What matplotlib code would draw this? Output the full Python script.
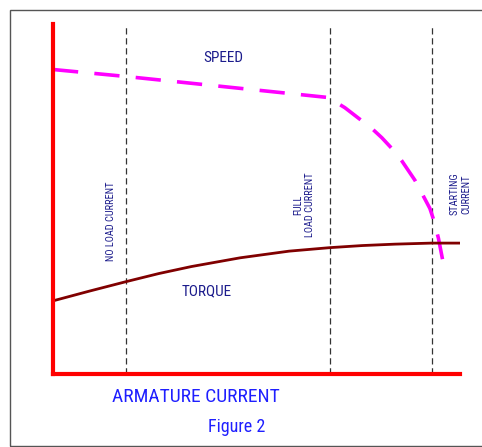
import matplotlib
matplotlib.use("Agg")
import matplotlib.pyplot as plt
from matplotlib import font_manager as fm
from matplotlib.patches import Rectangle

# look for a narrow font, the original uses something like Arial Narrow
names = sorted({f.name for f in fm.fontManager.ttflist})
preferred = ["Liberation Sans Narrow", "Arial Narrow", "Roboto Condensed", "Open Sans Condensed"]
narrow = [n for n in preferred if n in names]
narrow += [n for n in names if ("Narrow" in n or "Condensed" in n) and n not in narrow]

if narrow:
    plt.rcParams['font.family'] = [narrow[0], 'DejaVu Sans']
else:
    plt.rcParams['font.family'] = ['Liberation Sans', 'DejaVu Sans']

# armature current (0-100) positions of the markers
marker_x = [18, 68, 93]
marker_labels = ["NO LOAD CURRENT", "FULL\nLOAD CURRENT", "STARTING\nCURRENT"]

# speed curve (dashed magenta)
speed_x = [0, 18, 67.6, 71.7, 74.6, 78.3, 80.8, 84.0, 85.7, 88.9, 90.2, 92.6, 93.4, 94.7, 95.5, 96.3]
speed_y = [87, 85, 79.0, 76.1, 73.5, 70.2, 67.5, 63.5, 60.9, 55.4, 52.6, 47.3, 44.5, 38.8, 34.0, 29.2]

# torque curve (dark red)
torque_x = [0, 9, 18, 26, 34, 46, 58, 68, 76, 84, 93, 100]
torque_y = [20.9, 23.7, 26.4, 28.7, 30.7, 33.2, 35.1, 36.1, 36.7, 37.1, 37.4, 37.4]

fig = plt.figure(figsize=(4.82, 4.47), dpi=100)
ax = fig.add_axes([53 / 482, 73 / 447, 407 / 482, 350 / 447])

# border of the figure
fig.patches.append(Rectangle((10 / 482, 1 / 447), 1.0, 436 / 447, transform=fig.transFigure,
                             fill=False, edgecolor="#555555", lw=1))

for xm in marker_x:
    ax.axvline(xm, color="#333333", lw=0.9, ls=(0, (5, 3)))

ax.plot(speed_x, speed_y, color="#ff00ff", lw=2.6, ls=(0, (7, 4.5)))
ax.plot(torque_x, torque_y, color="#800000", lw=2)

ax.set_xlim(0, 100)
ax.set_ylim(0, 100)
for s in ["top", "right"]:
    ax.spines[s].set_visible(False)
for s in ["left", "bottom"]:
    ax.spines[s].set_color("#ff0000")
    ax.spines[s].set_linewidth(3)
ax.set_xticks([])
ax.set_yticks([])

big, mid, small = (14, 11, 7.5) if narrow else (11, 9, 6.5)

navy = "#1c1c8c"
ax.text(41.8, 90.3, "SPEED", color=navy, fontsize=mid, ha="center", va="center")
ax.text(37.8, 23.7, "TORQUE", color=navy, fontsize=mid, ha="center", va="center")
ax.text(14.3, 43.7, marker_labels[0], color=navy, fontsize=small, rotation=90,
        ha="center", va="center")
ax.text(61.7, 48.3, marker_labels[1], color=navy, fontsize=small, rotation=90,
        ha="center", va="center", multialignment="center")
ax.text(100.2, 51.4, marker_labels[2], color=navy, fontsize=small, rotation=90,
        ha="center", va="center", multialignment="center")

fig.text(196 / 482, 50 / 447, "ARMATURE CURRENT", color="#1f1fff", fontsize=big,
         ha="center", va="center")
fig.text(237 / 482, 20 / 447, "Figure 2", color="#1f1fff", fontsize=big - 1,
         ha="center", va="center")

fig.savefig("out.png", dpi=100)
